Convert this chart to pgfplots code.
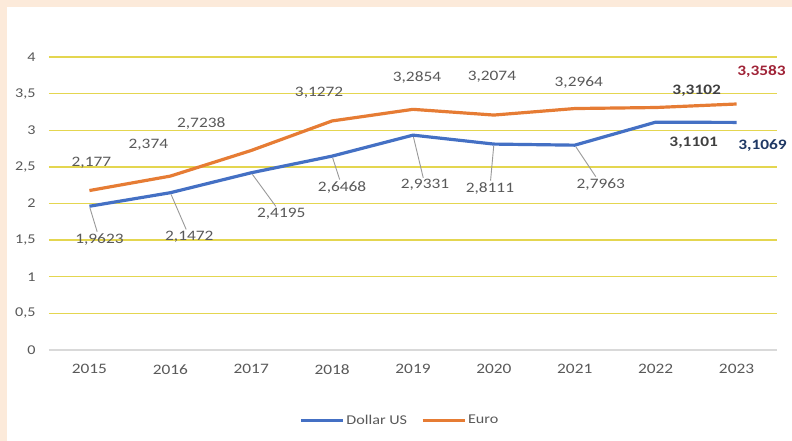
\documentclass[border=0pt]{standalone}
\usepackage{fontspec}
\setmainfont{Carlito}[FakeStretch=1.2]
\usepackage{pgfplots}
\usepackage{pgfplotstable}
\pgfplotsset{compat=1.18}

\definecolor{peach}{RGB}{252,234,218}
\definecolor{cblue}{RGB}{68,112,196}
\definecolor{corange}{RGB}{230,124,52}
\definecolor{txtgray}{RGB}{89,89,89}
\definecolor{lbldark}{RGB}{64,64,64}
\definecolor{gridyel}{RGB}{228,214,80}
\definecolor{navy}{RGB}{31,56,100}
\definecolor{lblred}{RGB}{160,35,55}

% x = year index (2015 = 0), dx/dy = label offset in bp, lop = leader line on/off
\pgfplotstableread{
x y lbl dx dy lop
0 1.9623 1,9623 10 -33 1
1 2.1472 2,1472 19 -44 1
2 2.4195 2,4195 30 -41 1
3 2.6468 2,6468 10 -31 1
4 2.9331 2,9331 12 -50 1
5 2.8111 2,8111 -4 -44 1
6 2.7963 2,7963 26 -39 1
7 3.1101 3,1101 38 -21 0
8 3.1069 3,1069 26 -23 0
}\tabdollar

\pgfplotstableread{
x y lbl dx dy lop
0 2.177 2,177 2 28 0
1 2.374 2,374 -22 31 0
2 2.7238 2,7238 -50 27 0
3 3.1272 3,1272 -13 28 0
4 3.2854 3,2854 4 32 0
5 3.2074 3,2074 -2 38 0
6 3.2964 3,2964 4 26 0
7 3.3102 3,3102 41 17 0
8 3.3583 3,3583 25 33 0
}\tabeuro

\pgfplotsset{
  datalabels/.style={
    draw=none, mark=none, forget plot,
    point meta=explicit symbolic,
    visualization depends on={\thisrow{dx} \as \dx},
    visualization depends on={\thisrow{dy} \as \dy},
    visualization depends on={\thisrow{lop} \as \lop},
    nodes near coords,
    every node near coord/.style={
      anchor=center, inner sep=1.5pt, xshift=\dx bp, yshift=\dy bp,
      font=\fontsize{14.5}{16}\selectfont, text=txtgray,
      append after command={(\tikzlastnode) edge[draw=black!40, line width=0.9pt,
        draw opacity=\lop, shorten >=2pt]
        ([xshift=-\dx bp, yshift=-\dy bp]\tikzlastnode.center)}
    },
  },
  boldlabel/.style={every node near coord/.append style={font=\fontsize{14.5}{16}\selectfont\bfseries, text=#1}},
}

\begin{document}
\begin{tikzpicture}
\fill[peach] (0,0) rectangle (792bp,441bp);
\fill[white] (7bp,0) rectangle (792bp,434bp);
\begin{axis}[
  at={(49bp,91bp)}, anchor=south west,
  scale only axis, width=728bp, height=293bp,
  xmin=-0.5, xmax=8.5, ymin=0, ymax=4,
  xtick={0,1,2,3,4,5,6,7,8},
  xticklabels={2015,2016,2017,2018,2019,2020,2021,2022,2023},
  ytick={0.5,1,1.5,2,2.5,3,3.5,4},
  extra y ticks={0},
  extra y tick style={major grid style={draw=black!15, line width=1.3pt}},
  ymajorgrids,
  major grid style={draw=gridyel, line width=1.5pt},
  axis line style={draw=none},
  major tick length=0pt,
  tick label style={text=txtgray},
  xticklabel style={font=\fontsize{14.5}{16}\selectfont, yshift=-11bp},
  yticklabel style={font=\fontsize{13.5}{15}\selectfont, xshift=-10bp},
  /pgf/number format/assume math mode=true,
  /pgf/number format/use comma,
  legend style={at={(0.482,-0.24)}, anchor=center, draw=none, fill=none,
    font=\fontsize{13.5}{15}\selectfont, text=txtgray,
    /tikz/every even column/.append style={column sep=12bp}},
  legend columns=2,
  legend image code/.code={\draw[#1, line width=3pt] (0bp,0bp) -- (42bp,0bp);},
  clip=false,
]
\addplot[cblue, line width=3.2pt, line join=round] table[x=x, y=y] {\tabdollar};
\addlegendentry{Dollar US}
\addplot[corange, line width=3.2pt, line join=round] table[x=x, y=y] {\tabeuro};
\addlegendentry{Euro}
% plain labels (rows 0-6), bold end labels added one by one
\addplot[datalabels] table[x=x, y=y, meta=lbl, skip coords between index={7}{9}] {\tabdollar};
\addplot[datalabels] table[x=x, y=y, meta=lbl, skip coords between index={7}{9}] {\tabeuro};
\addplot[datalabels, boldlabel=lbldark] table[x=x, y=y, meta=lbl, skip coords between index={0}{7}, skip coords between index={8}{9}] {\tabdollar};
\addplot[datalabels, boldlabel=navy] table[x=x, y=y, meta=lbl, skip coords between index={0}{8}] {\tabdollar};
\addplot[datalabels, boldlabel=lbldark] table[x=x, y=y, meta=lbl, skip coords between index={0}{7}, skip coords between index={8}{9}] {\tabeuro};
\addplot[datalabels, boldlabel=lblred] table[x=x, y=y, meta=lbl, skip coords between index={0}{8}] {\tabeuro};
\end{axis}
\pgfresetboundingbox
\path[use as bounding box] (0,0) rectangle (792bp,441bp);
\end{tikzpicture}
\end{document}
